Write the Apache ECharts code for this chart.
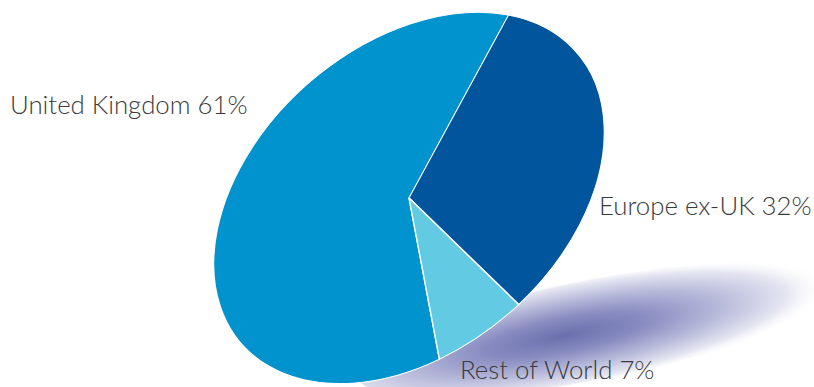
<!DOCTYPE html>
<html>
<head>
<meta charset="utf-8">
<script src="https://cdn.jsdelivr.net/npm/echarts@6/dist/echarts.min.js"></script>
<style>
  html, body { margin: 0; padding: 0; background: #fff; }
  #wrap { position: relative; width: 814px; height: 387px; overflow: hidden; }
  #bg { position: absolute; left: 0; top: 0; width: 814px; height: 387px; }
  #pie { position: absolute; left: 208.6px; top: -1.6px; width: 400px; height: 400px;
         transform-origin: 200px 200px;
         transform: matrix(0.9084, 0.1710, -0.5382, 0.9891, 0, 0); }
</style>
</head>
<body>
<div id="wrap">
  <div id="bg"></div>
  <div id="pie"></div>
</div>
<script>
// ---- data ----
const categories = ['United Kingdom', 'Europe ex-UK', 'Rest of World'];
const values = [61, 32, 7];
const colors = ['#0093CE', '#00559D', '#62CBE3'];

// ---- pie (drawn round, then tilted into an ellipse by an affine CSS transform) ----
const total = values.reduce((a, b) => a + b, 0);
const pie = echarts.init(document.getElementById('pie'), null, { renderer: 'svg' });
pie.setOption({
  animation: false,
  series: [{
    type: 'pie',
    center: ['50%', '50%'],
    radius: 185,
    startAngle: 90 + 360 * values[0] / total,
    clockwise: true,
    label: { show: false },
    labelLine: { show: false },
    emphasis: { disabled: true },
    itemStyle: { borderColor: '#ffffff', borderWidth: 1.2 },
    data: categories.map((c, i) => ({ name: c, value: values[i], itemStyle: { color: colors[i] } }))
  }]
});

// ---- background: shadow + labels ----
const labelPos = [
  { x: 10, y: 117 },
  { x: 599, y: 218 },
  { x: 460, y: 382 }
];
const bg = echarts.init(document.getElementById('bg'), null, { renderer: 'svg' });
bg.setOption({
  animation: false,
  graphic: [
    {
      type: 'circle',
      shape: { cx: 0, cy: 0, r: 100 },
      x: 592, y: 330,
      scaleX: 2.4, scaleY: 0.5,
      rotation: 0.192,
      silent: true,
      style: {
        fill: {
          type: 'radial', x: 0.44, y: 0.5, r: 0.56,
          colorStops: [
            { offset: 0, color: 'rgba(107,112,173,1)' },
            { offset: 0.3, color: 'rgba(135,139,192,1)' },
            { offset: 0.6, color: 'rgba(185,187,219,1)' },
            { offset: 0.85, color: 'rgba(230,231,242,1)' },
            { offset: 1, color: 'rgba(255,255,255,0)' }
          ]
        }
      }
    }
  ].concat(categories.map((c, i) => ({
    type: 'text',
    x: labelPos[i].x, y: labelPos[i].y,
    silent: true,
    style: {
      text: c + ' ' + values[i] + '%',
      fill: '#3a3a3a',
      font: '300 25.8px Lato, "Open Sans", sans-serif',
      verticalAlign: 'bottom',
      textBaseline: 'alphabetic'
    }
  })))
});
</script>
</body>
</html>
